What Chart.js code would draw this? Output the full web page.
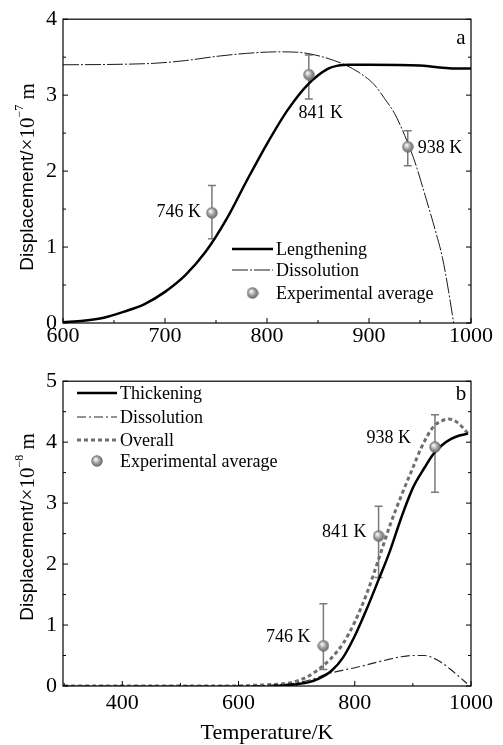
<!DOCTYPE html>
<html>
<head>
<meta charset="utf-8">
<title>Displacement vs temperature</title>
<script src="https://cdn.jsdelivr.net/npm/chart.js@4.4.0/dist/chart.umd.min.js"></script>
<style>
    body { margin: 0; background: #fff; }
    #wrap { position: relative; width: 503px; height: 745px; }
    canvas { position: absolute; left: 0; }
</style>
</head>
<body>
<div id="wrap">
    <canvas id="chartA" width="503" height="362" style="top:0"></canvas>
    <canvas id="chartB" width="503" height="383" style="top:362px"></canvas>
</div>
<script>
// Panel a data
const aTicksX = [600, 700, 800, 900, 1000];
const aTicksY = [0, 1, 2, 3, 4];
const aLengthT = [600, 620, 640, 660, 680, 700, 720, 740, 760, 780, 800, 820, 840, 860, 870, 880, 900, 950, 965, 990, 1000];
const aLengthV = [0.01, 0.03, 0.07, 0.15, 0.25, 0.41, 0.63, 0.94, 1.36, 1.87, 2.36, 2.80, 3.14, 3.35, 3.39, 3.40, 3.40, 3.39, 3.37, 3.35, 3.35];
const aDissT = [600, 650, 690, 720, 750, 780, 810, 830, 850, 865, 878, 890, 905, 915, 925, 935, 945, 955, 965, 972, 978, 983];
const aDissV = [3.40, 3.405, 3.42, 3.455, 3.51, 3.55, 3.57, 3.565, 3.52, 3.46, 3.39, 3.30, 3.14, 2.96, 2.76, 2.47, 2.12, 1.68, 1.22, 0.86, 0.42, 0];
const aExpV = [1.45, 3.27, 2.32];
const aExpLow = [1.11, 2.95, 2.07];
const aExpHigh = [1.81, 3.53, 2.53];

// Panel b data
const bTicksX = [400, 600, 800, 1000];
const bTicksY = [0, 1, 2, 3, 4, 5];
const bThickT = [660, 680, 700, 720, 740, 760, 780, 800, 820, 840, 860, 880, 900, 920, 935, 950, 965, 980, 995];
const bThickV = [0, 0.01, 0.03, 0.06, 0.13, 0.25, 0.47, 0.82, 1.25, 1.72, 2.20, 2.76, 3.25, 3.58, 3.80, 3.95, 4.05, 4.11, 4.14];
const bDissT = [300, 400, 500, 600, 650, 700, 730, 750, 770, 800, 830, 860, 880, 900, 920, 935, 950, 965, 980, 993];
const bDissV = [0, 0, 0, 0, 0.01, 0.05, 0.12, 0.19, 0.24, 0.30, 0.37, 0.44, 0.48, 0.50, 0.50, 0.46, 0.38, 0.27, 0.15, 0.04];
const bOverT = [300, 400, 500, 600, 620, 650, 680, 700, 720, 740, 760, 780, 800, 820, 840, 860, 880, 900, 915, 935, 950, 962, 977, 995];
const bOverV = [0, 0, 0, 0, 0.01, 0.02, 0.04, 0.08, 0.16, 0.29, 0.46, 0.70, 1.05, 1.50, 2.05, 2.62, 3.12, 3.58, 3.92, 4.25, 4.35, 4.38, 4.32, 4.14];
const bExpV = [0.66, 2.46, 3.92];
const bExpLow = [0.27, 1.78, 3.18];
const bExpHigh = [1.35, 2.95, 4.45];

// Shared
const expT = [746, 841, 938];
const expLabels = ['746 K', '841 K', '938 K'];

const SERIF = '"Liberation Serif", "Times New Roman", serif';
const SANS = '"Liberation Sans", Arial, sans-serif';

// Gray ball marker
function makeSphere(r) {
    const c = document.createElement('canvas');
    c.width = c.height = r * 2;
    const g = c.getContext('2d');
    const grad = g.createRadialGradient(r * 0.75, r * 0.7, r * 0.1, r, r, r);
    grad.addColorStop(0, '#f6f6f6');
    grad.addColorStop(0.45, '#a9a9a9');
    grad.addColorStop(1, '#5a5a5a');
    g.fillStyle = grad;
    g.beginPath();
    g.arc(r, r, r - 0.3, 0, Math.PI * 2);
    g.fill();
    return c;
}
const sphere = makeSphere(6);

function pts(xs, ys) {
    return xs.map((x, i) => ({ x: x, y: ys[i] }));
}

function minorTicks(major, min, max) {
    const out = [];
    for (let i = 0; i < major.length - 1; i++) out.push((major[i] + major[i + 1]) / 2);
    const step = major[1] - major[0];
    if (major[0] - step / 2 > min) out.push(major[0] - step / 2);
    if (major[major.length - 1] + step / 2 < max) out.push(major[major.length - 1] + step / 2);
    return out;
}

// Rotated y title with superscript exponent
function drawYTitle(ctx, cx, cy, exp) {
    const parts = [
        { t: 'Displacement/', f: '19px ' + SANS, dy: 0 },
        { t: '\u00d710', f: '21px ' + SERIF, dy: 0 },
        { t: exp, f: '12px ' + SERIF, dy: -8 },
        { t: ' m', f: '21px ' + SERIF, dy: 0 }
    ];
    let total = 0;
    parts.forEach(p => { ctx.font = p.f; p.w = ctx.measureText(p.t).width; total += p.w; });
    ctx.save();
    ctx.translate(cx, cy);
    ctx.rotate(-Math.PI / 2);
    ctx.textBaseline = 'middle';
    ctx.textAlign = 'left';
    let x = -total / 2;
    parts.forEach(p => { ctx.font = p.f; ctx.fillText(p.t, x, p.dy); x += p.w; });
    ctx.restore();
}

// Frame, ticks, error bars, labels, legend
const decorPlugin = {
    id: 'decor',
    beforeDatasetsDraw(chart, args, opts) {
        const ctx = chart.ctx;
        const xs = chart.scales.x, ys = chart.scales.y;
        ctx.save();
        ctx.strokeStyle = '#7a7a7a';
        ctx.lineWidth = 1.5;
        expT.forEach((t, i) => {
            const px = xs.getPixelForValue(t);
            const top = ys.getPixelForValue(opts.high[i]);
            const bot = ys.getPixelForValue(opts.low[i]);
            ctx.beginPath();
            ctx.moveTo(px, top); ctx.lineTo(px, bot);
            ctx.moveTo(px - 4, top); ctx.lineTo(px + 4, top);
            ctx.moveTo(px - 4, bot); ctx.lineTo(px + 4, bot);
            ctx.stroke();
        });
        ctx.restore();
    },
    afterDraw(chart, args, opts) {
        const ctx = chart.ctx;
        const area = chart.chartArea;
        const xs = chart.scales.x, ys = chart.scales.y;
        ctx.save();

        // frame
        ctx.strokeStyle = '#000';
        ctx.lineWidth = 1.2;
        ctx.strokeRect(area.left, area.top, area.right - area.left, area.bottom - area.top);

        // inward ticks
        ctx.lineWidth = 1;
        const xMaj = xs.ticks.map(t => t.value);
        const yMaj = ys.ticks.map(t => t.value);
        const tickX = (v, len) => {
            const p = xs.getPixelForValue(v);
            ctx.beginPath(); ctx.moveTo(p, area.bottom); ctx.lineTo(p, area.bottom - len); ctx.stroke();
        };
        const tickY = (v, len) => {
            const p = ys.getPixelForValue(v);
            ctx.beginPath();
            ctx.moveTo(area.left, p); ctx.lineTo(area.left + len, p);
            ctx.moveTo(area.right, p); ctx.lineTo(area.right - len, p);
            ctx.stroke();
        };
        xMaj.forEach(v => tickX(v, 5));
        minorTicks(xMaj, xs.min, xs.max).forEach(v => tickX(v, 3));
        yMaj.forEach(v => tickY(v, 5));
        minorTicks(yMaj, ys.min, ys.max).forEach(v => tickY(v, 3));

        // point labels
        ctx.fillStyle = '#000';
        ctx.font = '18px ' + SERIF;
        ctx.textBaseline = 'middle';
        const expVals = opts.values;
        expT.forEach((t, i) => {
            const px = xs.getPixelForValue(t);
            const py = ys.getPixelForValue(expVals[i]);
            ctx.textAlign = opts.labelAlign[i];
            ctx.fillText(expLabels[i], px + opts.labelDx[i], py + opts.labelDy[i]);
        });

        // panel letter
        ctx.font = '21px ' + SERIF;
        ctx.textAlign = 'center';
        ctx.fillText(opts.letter, opts.letterX, opts.letterY);

        // legend
        ctx.font = '18px ' + SERIF;
        ctx.textAlign = 'left';
        opts.legend.forEach((item, i) => {
            const y = opts.legendY[i];
            const ds = chart.data.datasets[item.ds];
            if (item.marker) {
                ctx.drawImage(sphere, (opts.legendX0 + opts.legendX1) / 2 - 6, y - 6);
            } else {
                ctx.save();
                ctx.strokeStyle = ds.borderColor;
                ctx.lineWidth = ds.borderWidth;
                ctx.setLineDash(ds.borderDash || []);
                ctx.beginPath();
                ctx.moveTo(opts.legendX0, y); ctx.lineTo(opts.legendX1, y);
                ctx.stroke();
                ctx.restore();
            }
            ctx.fillText(ds.label, opts.legendX1 + 3, y + 1);
        });

        // axis titles
        drawYTitle(ctx, 28, opts.titleY, opts.exponent);
        if (opts.xTitle) {
            ctx.font = '22px ' + SERIF;
            ctx.textAlign = 'center';
            ctx.fillText(opts.xTitle, (area.left + area.right) / 2, opts.xTitleY);
        }
        ctx.restore();
    }
};

function expDataset(values) {
    return {
        label: 'Experimental average',
        data: pts(expT, values),
        showLine: false,
        pointStyle: sphere,
        pointRadius: 6,
        pointHoverRadius: 6,
        order: 0
    };
}

function lineDataset(label, xs, ys, color, width, dash) {
    return {
        label: label,
        data: pts(xs, ys),
        borderColor: color,
        borderWidth: width,
        borderDash: dash,
        pointRadius: 0,
        fill: false,
        cubicInterpolationMode: 'monotone',
        order: 1
    };
}

function buildChart(id, cfg) {
    const tickFont = { family: SERIF, size: 22 };
    return new Chart(document.getElementById(id), {
        type: 'line',
        data: { datasets: cfg.datasets },
        options: {
            responsive: false,
            animation: false,
            devicePixelRatio: 1,
            layout: { padding: { top: cfg.padTop, right: 32, left: 0, bottom: 0 } },
            plugins: {
                legend: { display: false },
                tooltip: { enabled: false },
                decor: cfg.decor
            },
            scales: {
                x: {
                    type: 'linear',
                    min: cfg.xMin,
                    max: cfg.xMax,
                    grid: { display: false, drawTicks: false },
                    border: { display: false },
                    ticks: { font: tickFont, color: '#000', padding: cfg.xPad, maxRotation: 0, autoSkip: false, callback: v => String(v) },
                    afterBuildTicks: s => { s.ticks = cfg.ticksX.map(v => ({ value: v })); },
                    afterFit: s => { s.height = cfg.xHeight; }
                },
                y: {
                    type: 'linear',
                    min: cfg.yMin,
                    max: cfg.yMax,
                    grid: { display: false, drawTicks: false },
                    border: { display: false },
                    ticks: { font: tickFont, color: '#000', padding: 6, callback: v => String(v) },
                    afterBuildTicks: s => { s.ticks = cfg.ticksY.map(v => ({ value: v })); },
                    afterFit: s => { s.width = 63; }
                }
            }
        },
        plugins: [decorPlugin]
    });
}

document.addEventListener('DOMContentLoaded', () => {
    // Panel a
    buildChart('chartA', {
        padTop: 17, xHeight: 39, xPad: 0,
        xMin: 600, xMax: 1000, yMin: 0, yMax: 4,
        ticksX: aTicksX, ticksY: aTicksY,
        datasets: [
            lineDataset('Lengthening', aLengthT, aLengthV, '#000', 2.5, []),
            lineDataset('Dissolution', aDissT, aDissV, '#1a1a1a', 1, [16, 2, 2, 2]),
            expDataset(aExpV)
        ],
        decor: {
            values: aExpV, low: aExpLow, high: aExpHigh,
            labelDx: [-11, 12, 10], labelDy: [-1, 39, 1], labelAlign: ['right', 'center', 'left'],
            letter: 'a', letterX: 461, letterY: 38,
            legend: [{ ds: 0 }, { ds: 1 }, { ds: 2, marker: true }],
            legendX0: 232, legendX1: 273, legendY: [249, 270, 293],
            exponent: '\u22127', titleY: 177
        }
    });

    // Panel b
    buildChart('chartB', {
        padTop: 13, xHeight: 59, xPad: 4,
        xMin: 298, xMax: 1000, yMin: 0, yMax: 5,
        ticksX: bTicksX, ticksY: bTicksY,
        datasets: [
            lineDataset('Thickening', bThickT, bThickV, '#000', 2.5, []),
            lineDataset('Dissolution', bDissT, bDissV, '#262626', 1.2, [9, 3, 2, 3]),
            lineDataset('Overall', bOverT, bOverV, '#6e6e6e', 3, [4, 3]),
            expDataset(bExpV)
        ],
        decor: {
            values: bExpV, low: bExpLow, high: bExpHigh,
            labelDx: [-13, -12, -24], labelDy: [-9, -4, -9], labelAlign: ['right', 'right', 'right'],
            letter: 'b', letterX: 461, letterY: 32,
            legend: [{ ds: 0 }, { ds: 1 }, { ds: 2 }, { ds: 3, marker: true }],
            legendX0: 77, legendX1: 117, legendY: [31, 55, 78, 99],
            exponent: '\u22128', titleY: 165,
            xTitle: 'Temperature/K', xTitleY: 371
        }
    });
});
</script>
</body>
</html>
